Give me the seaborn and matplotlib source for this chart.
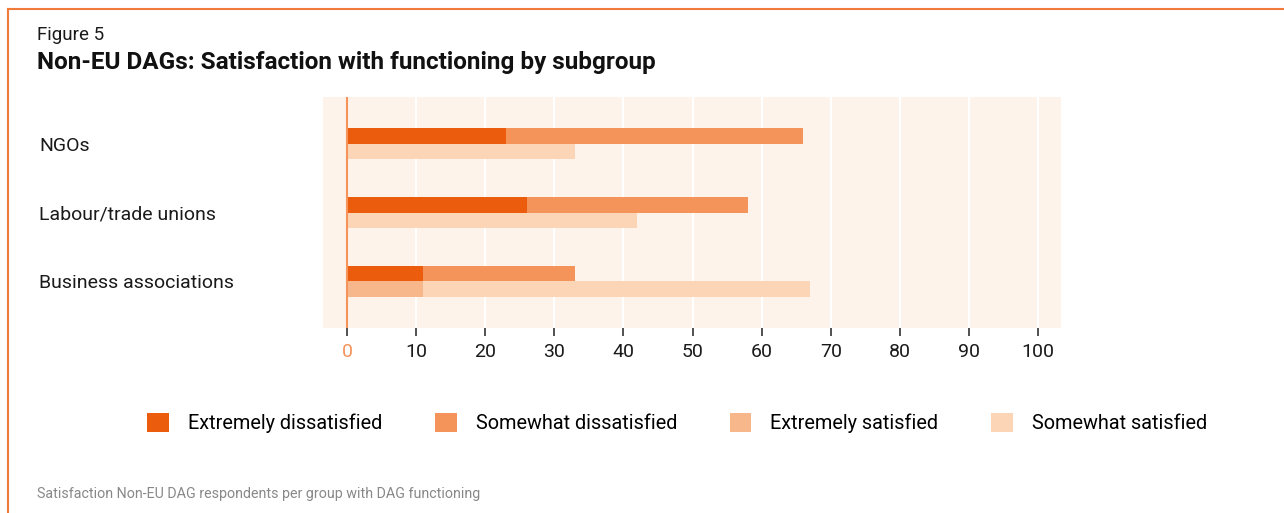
"""
Non-EU DAGs: satisfaction with functioning by subgroup
Paired stacked horizontal bars (dissatisfied on top, satisfied below)
"""

import matplotlib
matplotlib.use("Agg")
import matplotlib.pyplot as plt
import matplotlib.patches as mpatches
from matplotlib.lines import Line2D
import pandas as pd
import seaborn as sns

# Data (percent of respondents)
groups = ["NGOs", "Labour/trade unions", "Business associations"]
extremely_dissatisfied = [23, 26, 11]
somewhat_dissatisfied = [43, 32, 22]
extremely_satisfied = [0, 0, 11]
somewhat_satisfied = [33, 42, 56]
x_ticks = [0, 10, 20, 30, 40, 50, 60, 70, 80, 90, 100]

legend_labels = ["Extremely dissatisfied", "Somewhat dissatisfied",
                 "Extremely satisfied", "Somewhat satisfied"]
colors = ["#EB5C0D", "#F4935A", "#F8B78A", "#FCD4B6"]
bg_color = "#FDF3EA"
border_color = "#EF7A3A"
text_color = "#1a1a1a"

plt.rcParams["font.family"] = ["Roboto", "DejaVu Sans"]

# Long-form tables: totals (drawn first) and the "extremely" part on top
rows_total, rows_extreme = [], []
for i, g in enumerate(groups):
    rows_total.append({"group": g, "side": "Dissatisfied",
                       "value": extremely_dissatisfied[i] + somewhat_dissatisfied[i]})
    rows_total.append({"group": g, "side": "Satisfied",
                       "value": extremely_satisfied[i] + somewhat_satisfied[i]})
    rows_extreme.append({"group": g, "side": "Dissatisfied", "value": extremely_dissatisfied[i]})
    rows_extreme.append({"group": g, "side": "Satisfied", "value": extremely_satisfied[i]})
df_total = pd.DataFrame(rows_total)
df_extreme = pd.DataFrame(rows_extreme)
hue_order = ["Dissatisfied", "Satisfied"]

fig = plt.figure(figsize=(12.84, 5.13), dpi=100)
ax = fig.add_axes([323 / 1284, 1 - 328 / 513, (1061 - 323) / 1284, (328 - 97) / 513])
ax.set_facecolor(bg_color)

sns.barplot(data=df_total, x="value", y="group", hue="side", order=groups,
            hue_order=hue_order, palette=[colors[1], colors[3]], width=0.45,
            saturation=1, errorbar=None, legend=False, ax=ax, zorder=3, linewidth=0)
sns.barplot(data=df_extreme, x="value", y="group", hue="side", order=groups,
            hue_order=hue_order, palette=[colors[0], colors[2]], width=0.45,
            saturation=1, errorbar=None, legend=False, ax=ax, zorder=4, linewidth=0)

ax.set_xlim(-3.47, 103.3)
ax.set_ylim(2.68, -0.68)
ax.set_xticks(x_ticks)
ax.set_xticklabels([str(t) for t in x_ticks])
ax.grid(axis="x", color="white", linewidth=1.5, zorder=1)
ax.grid(axis="y", visible=False)
ax.set_axisbelow(True)
for s in ax.spines.values():
    s.set_visible(False)
ax.set_xlabel("")
ax.set_ylabel("")

# zero line in orange
ax.axvline(0, color=colors[1], linewidth=1.5, zorder=5)

ax.tick_params(axis="x", length=6, width=1.2, color="#333333", labelsize=14,
               labelcolor=text_color, pad=5)
ax.xaxis.get_ticklines()[0].set_color(colors[1])
ax.get_xticklabels()[0].set_color(colors[1])

ax.tick_params(axis="y", length=0, labelsize=14, labelcolor=text_color, pad=204.5)
for lab in ax.get_yticklabels():
    lab.set_horizontalalignment("left")

# titles and footer
fig.text(37 / 1284, 1 - 35 / 513, "Figure 5", fontsize=13.5, color=text_color, va="center")
fig.text(37 / 1284, 1 - 62 / 513, "Non-EU DAGs: Satisfaction with functioning by subgroup",
         fontsize=17.5, fontweight="bold", color="#111111", va="center")
fig.text(37 / 1284, 1 - 494 / 513,
         "Satisfaction Non-EU DAG respondents per group with DAG functioning",
         fontsize=10.3, color="#888888", va="center")

# legend
handles = [mpatches.Patch(facecolor=c, edgecolor="none") for c in colors]
fig.legend(handles, legend_labels, loc="center", bbox_to_anchor=(677 / 1284, 1 - 423 / 513),
           ncol=4, frameon=False, fontsize=14.3, handlelength=1.1, handleheight=1.15,
           handletextpad=0.95, columnspacing=2.65)

# orange frame (top and left edges)
fig.add_artist(Line2D([8 / 1284, 1], [1 - 9 / 513, 1 - 9 / 513],
                      transform=fig.transFigure, color=border_color, linewidth=1.5))
fig.add_artist(Line2D([8 / 1284, 8 / 1284], [0, 1 - 9 / 513],
                      transform=fig.transFigure, color=border_color, linewidth=1.5))

fig.savefig("out.png", dpi=100)
